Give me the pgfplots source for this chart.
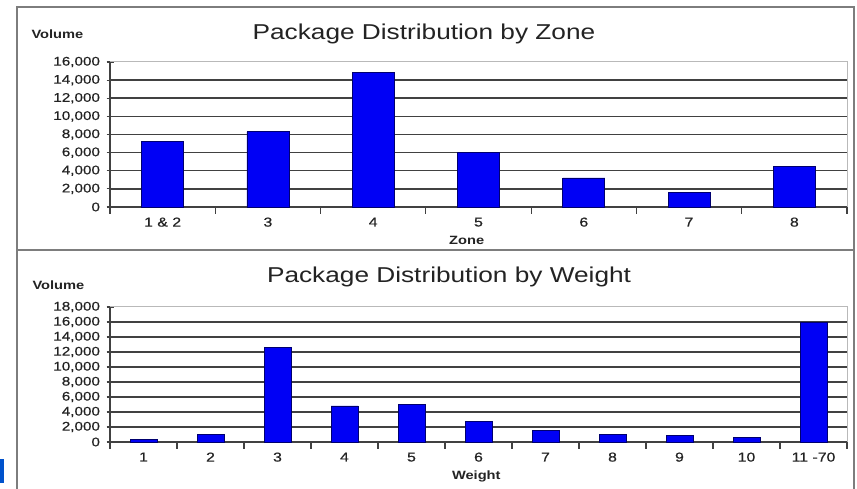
\documentclass[border=0pt]{standalone}
\usepackage{fontspec}
\setmainfont{Liberation Sans}[FakeStretch=1.22]
\usepackage{pgfplots}
\pgfplotsset{compat=1.18}

\definecolor{barblue}{RGB}{0,0,245}
\definecolor{baredge}{RGB}{0,0,110}
\definecolor{gridc}{RGB}{65,65,65}
\definecolor{framec}{RGB}{125,125,125}
\definecolor{edgec}{RGB}{185,185,185}
\definecolor{txt}{RGB}{35,35,35}

\pgfplotsset{
  panel/.style={
    scale only axis, width=737pt,
    ymin=0,
    axis lines=left,
    axis line style={-, gridc, line width=1.4pt},
    ymajorgrids,
    major grid style={gridc, line width=1.5pt},
    extra y tick style={grid=none},
    tick align=center, major tick length=7pt,
    tick style={gridc, line width=1.2pt},
    x tick label as interval,
    ybar,
    /pgf/number format/assume math mode=true,
    /pgf/number format/1000 sep={,},
    scaled y ticks=false,
    yticklabel style={font=\fontsize{12.5}{13}\selectfont\addfontfeature{FakeBold=0.5}, text=txt, xshift=-3pt},
    xticklabel style={font=\fontsize{13}{14}\selectfont\addfontfeature{FakeBold=0.5}, text=txt},
    clip=false,
  }
}

\begin{document}
\begin{tikzpicture}[x=1pt,y=1pt]
\useasboundingbox (0,0) rectangle (857,489);
\fill[white] (0,0) rectangle (857,489);

% zone panel
\begin{axis}[panel,
  at={(110pt,282pt)}, anchor=south west,
  height=145pt,
  xmin=-0.5, xmax=6.5, ymax=16000,
  bar width=42pt,
  xtick={-0.5,0.5,...,6.5},
  xticklabels={{1 \& 2},3,4,5,6,7,8},
  ytick={0,2000,...,14000},
  extra y ticks={16000},
  title={Package Distribution by Zone},
  every axis title/.style={at={(axis description cs:0.426,1)}, anchor=base, yshift=22pt,
    font=\fontsize{21.5}{24}\selectfont, text=txt},
  xlabel={Zone},
  every axis x label/.style={at={(axis description cs:0.484,0)}, anchor=base, yshift=-38pt,
    font=\bfseries\fontsize{12}{13}\selectfont, text=txt},
]
\addplot[fill=barblue, draw=baredge, line width=0.8pt] coordinates {
  (0,7200) (1,8300) (2,14800) (3,6050) (4,3200) (5,1600) (6,4450)};
\draw[edgec, line width=1pt] (rel axis cs:0,1) -- (rel axis cs:1,1) -- (rel axis cs:1,0);
\end{axis}

% weight panel
\begin{axis}[panel,
  at={(110pt,47pt)}, anchor=south west,
  height=135pt,
  xmin=-0.5, xmax=10.5, ymax=18000,
  bar width=27pt,
  xtick={-0.5,0.5,...,10.5},
  xticklabels={1,2,3,4,5,6,7,8,9,10,11 -70},
  ytick={0,2000,...,16000},
  extra y ticks={18000},
  title={Package Distribution by Weight},
  every axis title/.style={at={(axis description cs:0.46,1)}, anchor=base, yshift=24pt,
    font=\fontsize{21.5}{24}\selectfont, text=txt},
  xlabel={Weight},
  every axis x label/.style={at={(axis description cs:0.497,0)}, anchor=base, yshift=-38pt,
    font=\bfseries\fontsize{12}{13}\selectfont, text=txt},
]
\addplot[fill=barblue, draw=baredge, line width=0.8pt] coordinates {
  (0,350) (1,950) (2,12600) (3,4800) (4,5000) (5,2700)
  (6,1550) (7,1000) (8,850) (9,600) (10,15900)};
\draw[edgec, line width=1pt] (rel axis cs:0,1) -- (rel axis cs:1,1) -- (rel axis cs:1,0);
\end{axis}

\node[anchor=base west, font=\bfseries\fontsize{12}{13}\selectfont, text=txt] at (28,450) {Volume};
\node[anchor=base west, font=\bfseries\fontsize{12}{13}\selectfont, text=txt] at (29,199) {Volume};

% frames
\draw[framec, line width=2pt] (17,-2) -- (17,482) -- (854,482) -- (854,-2);
\draw[framec, line width=2pt] (17,239) -- (854,239);
\fill[blue!60!cyan!80!black] (0,6) rectangle (3.5,30);
\end{tikzpicture}
\end{document}
